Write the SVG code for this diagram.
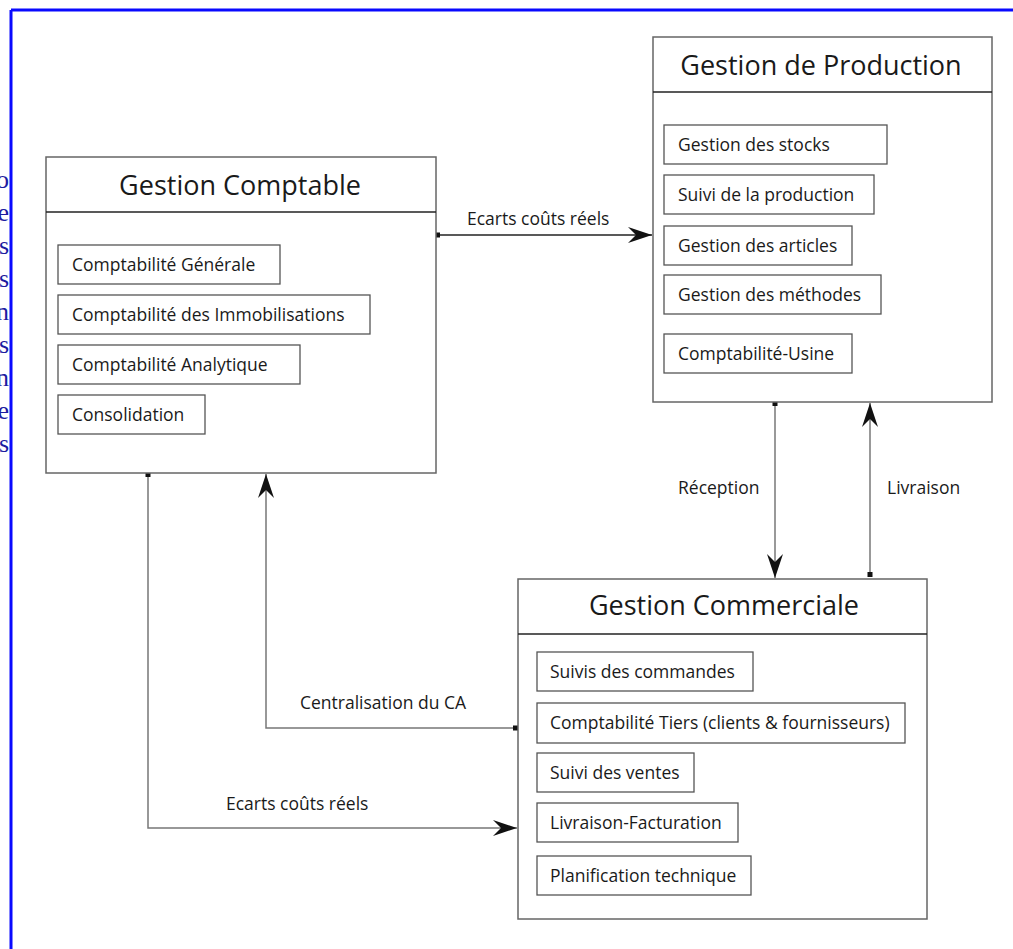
<svg xmlns="http://www.w3.org/2000/svg" width="1013" height="949" viewBox="0 0 1013 949">
<style>
.box{fill:#fff;stroke:#666;stroke-width:1.5}
.div{stroke:#222;stroke-width:1.5}
.sub{fill:#fff;stroke:#555;stroke-width:1.3}
.title{font-family:"Open Sans","Liberation Sans",sans-serif;font-size:27px;fill:#1a1a1a;text-anchor:middle}
.t{font-family:"Open Sans","Liberation Sans",sans-serif;font-size:17.5px;fill:#1a1a1a}
.lbl{font-family:"Open Sans","Liberation Sans",sans-serif;font-size:17.5px;fill:#1a1a1a}
.con{fill:none;stroke:#777;stroke-width:1.5}
.sq{fill:#111}
.blue{font-family:"Liberation Serif","Times New Roman",serif;font-size:26px;fill:#1c1ca0;text-anchor:end}
</style>
<defs>
<marker id="arr" viewBox="-24 -8 24 16" markerUnits="userSpaceOnUse" markerWidth="24" markerHeight="16" refX="0" refY="0" orient="auto">
<path d="M0,0 L-24,-8 L-16,0 L-24,8 Z" fill="#111"/>
</marker>
</defs>
<rect width="1013" height="949" fill="#fff"/>
<g id="frame">
<line x1="11" y1="10" x2="1013" y2="10" stroke="#0a0aff" stroke-width="3"/>
<line x1="11" y1="10" x2="11" y2="949" stroke="#0a0aff" stroke-width="3"/>
<g class="blue">
<text x="9" y="188">o</text>
<text x="9" y="221">e</text>
<text x="9" y="254">s</text>
<text x="9" y="287">s</text>
<text x="9" y="320">n</text>
<text x="9" y="353">s</text>
<text x="9" y="386">n</text>
<text x="9" y="419">e</text>
<text x="9" y="452">s</text>
</g>
</g>
<g id="connectors">
<path class="con" style="stroke:#222" d="M437 235 H652" marker-end="url(#arr)"/>
<rect class="sq" x="435" y="232.5" width="5" height="5"/>
<path class="con" d="M775 403 V578" marker-end="url(#arr)"/>
<rect class="sq" x="772.5" y="401" width="5" height="5"/>
<path class="con" d="M870 575 V403" marker-end="url(#arr)"/>
<rect class="sq" x="867.5" y="572" width="5" height="5"/>
<path class="con" d="M516 728 H266 V474" marker-end="url(#arr)"/>
<rect class="sq" x="513" y="725.5" width="5" height="5"/>
<path class="con" d="M148 475 V828 H517" marker-end="url(#arr)"/>
<rect class="sq" x="145.5" y="472" width="5" height="5"/>
<text class="lbl" x="467" y="225">Ecarts coûts réels</text>
<text class="lbl" x="678" y="494">Réception</text>
<text class="lbl" x="887" y="494">Livraison</text>
<text class="lbl" x="300" y="709">Centralisation du CA</text>
<text class="lbl" x="226" y="810">Ecarts coûts réels</text>
</g>
<g id="gestion-comptable">
<rect class="box" x="46" y="157" width="390" height="316"/>
<line class="div" x1="46" y1="212" x2="436" y2="212"/>
<text class="title" x="240" y="195">Gestion Comptable</text>
<rect class="sub" x="58" y="245" width="222" height="39"/>
<text class="t" x="72" y="271">Comptabilité Générale</text>
<rect class="sub" x="58" y="295" width="312" height="39"/>
<text class="t" x="72" y="321">Comptabilité des Immobilisations</text>
<rect class="sub" x="58" y="345" width="242" height="39"/>
<text class="t" x="72" y="371">Comptabilité Analytique</text>
<rect class="sub" x="58" y="395" width="147" height="39"/>
<text class="t" x="72" y="421">Consolidation</text>
</g>
<g id="gestion-production">
<rect class="box" x="653" y="37" width="339" height="365"/>
<line class="div" x1="653" y1="92" x2="992" y2="92"/>
<text class="title" x="821" y="75">Gestion de Production</text>
<rect class="sub" x="664" y="125" width="223" height="39"/>
<text class="t" x="678" y="151">Gestion des stocks</text>
<rect class="sub" x="664" y="175" width="210" height="39"/>
<text class="t" x="678" y="201">Suivi de la production</text>
<rect class="sub" x="664" y="226" width="188" height="39"/>
<text class="t" x="678" y="252">Gestion des articles</text>
<rect class="sub" x="664" y="275" width="217" height="39"/>
<text class="t" x="678" y="301">Gestion des méthodes</text>
<rect class="sub" x="664" y="334" width="188" height="39"/>
<text class="t" x="678" y="360">Comptabilité-Usine</text>
</g>
<g id="gestion-commerciale">
<rect class="box" x="518" y="579" width="409" height="340"/>
<line class="div" x1="518" y1="634" x2="927" y2="634"/>
<text class="title" x="724" y="615">Gestion Commerciale</text>
<rect class="sub" x="537" y="652" width="216" height="39"/>
<text class="t" x="550" y="678">Suivis des commandes</text>
<rect class="sub" x="537" y="703" width="368" height="40"/>
<text class="t" x="550" y="729">Comptabilité Tiers (clients &amp; fournisseurs)</text>
<rect class="sub" x="537" y="753" width="157" height="39"/>
<text class="t" x="550" y="779">Suivi des ventes</text>
<rect class="sub" x="537" y="803" width="201" height="39"/>
<text class="t" x="550" y="829">Livraison-Facturation</text>
<rect class="sub" x="537" y="856" width="214" height="39"/>
<text class="t" x="550" y="882">Planification technique</text>
</g>
</svg>
